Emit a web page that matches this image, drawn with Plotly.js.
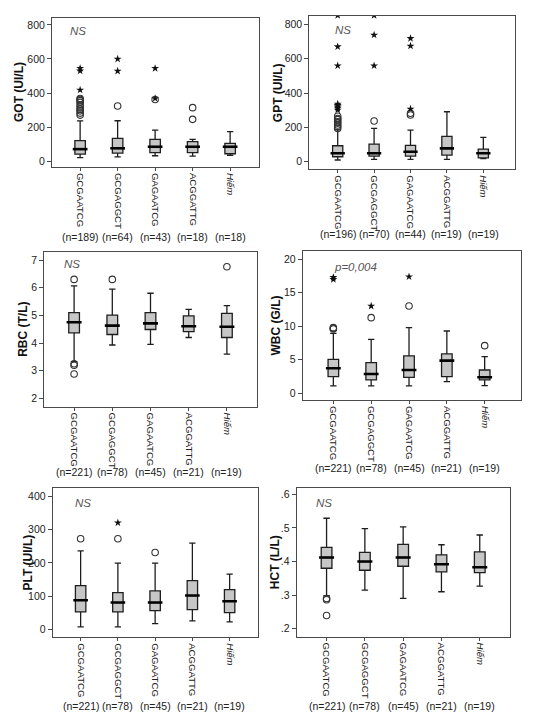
<!DOCTYPE html>
<html>
<head>
<meta charset="utf-8">
<script src="https://cdn.plot.ly/plotly-3.0.1.min.js"></script>
<style>html,body{margin:0;padding:0;background:#fff;}#chart{width:533px;height:718px;}</style>
</head>
<body>
<div id="chart"></div>
<script>
// ---------- data ----------
const categories = ['GCGAATCG', 'GCGAGGCT', 'GAGAATCG', 'ACGGATTG', 'Hiếm'];

// GOT (UI/L)
const got_n = [189, 64, 43, 18, 18];
const got_low = [20, 25, 31, 29, 33];
const got_q1 = [41, 47, 49, 49, 43];
const got_med = [70, 75, 84, 84, 84];
const got_q3 = [120, 133, 127, 114, 104];
const got_high = [236, 237, 182, 127, 173];
const got_circ_x = ['GCGAATCG','GCGAATCG','GCGAATCG','GCGAATCG','GCGAATCG','GCGAATCG','GCGAATCG','GCGAATCG','GCGAATCG','GCGAATCG','GCGAGGCT','GAGAATCG','ACGGATTG','ACGGATTG'];
const got_circ_y = [270, 282, 295, 305, 318, 330, 345, 355, 362, 368, 324, 362, 245, 314];
const got_star_x = ['GCGAATCG','GCGAATCG','GCGAATCG','GCGAGGCT','GCGAGGCT','GAGAATCG','GAGAATCG'];
const got_star_y = [418, 530, 545, 529, 600, 368, 545];

// GPT (UI/L)
const gpt_n = [196, 70, 44, 19, 19];
const gpt_low = [10, 14, 14, 14, 19];
const gpt_q1 = [29, 33, 33, 39, 23];
const gpt_med = [49, 49, 58, 78, 49];
const gpt_q3 = [93, 103, 95, 148, 74];
const gpt_high = [185, 194, 184, 291, 142];
const gpt_circ_x = ['GCGAATCG','GCGAATCG','GCGAATCG','GCGAATCG','GCGAATCG','GCGAATCG','GCGAATCG','GCGAATCG','GCGAGGCT','GAGAATCG','GAGAATCG'];
const gpt_circ_y = [194, 205, 214, 225, 233, 245, 252, 265, 237, 272, 282];
const gpt_star_x = ['GCGAATCG','GCGAATCG','GCGAATCG','GCGAATCG','GCGAATCG','GCGAATCG','GCGAATCG','GCGAATCG','GCGAGGCT','GCGAGGCT','GCGAGGCT','GAGAATCG','GAGAATCG','GAGAATCG'];
const gpt_star_y = [301, 312, 320, 328, 336, 559, 670, 852, 559, 738, 852, 307, 674, 718];

// RBC (T/L)
const rbc_n = [221, 78, 45, 21, 19];
const rbc_low = [3.33, 3.93, 3.95, 4.20, 3.60];
const rbc_q1 = [4.37, 4.31, 4.49, 4.41, 4.20];
const rbc_med = [4.75, 4.63, 4.71, 4.61, 4.59];
const rbc_q3 = [5.10, 5.01, 5.10, 4.98, 5.07];
const rbc_high = [6.07, 5.95, 5.80, 5.22, 5.35];
const rbc_circ_x = ['GCGAATCG','GCGAATCG','GCGAATCG','GCGAATCG','GCGAGGCT','Hiếm'];
const rbc_circ_y = [6.30, 3.25, 3.20, 2.88, 6.30, 6.76];
const rbc_star_x = [];
const rbc_star_y = [];

// WBC (G/L)
const wbc_n = [221, 78, 45, 21, 19];
const wbc_low = [1.09, 1.09, 1.09, 1.74, 1.14];
const wbc_q1 = [2.48, 1.99, 2.38, 2.48, 1.99];
const wbc_med = [3.72, 2.88, 3.47, 4.86, 2.38];
const wbc_q3 = [5.06, 4.57, 5.56, 5.86, 3.47];
const wbc_high = [8.93, 8.04, 9.78, 9.28, 5.46];
const wbc_circ_x = ['GCGAATCG','GCGAATCG','GCGAATCG','GCGAGGCT','GAGAATCG','Hiếm'];
const wbc_circ_y = [9.58, 9.68, 9.78, 11.27, 13.0, 7.10];
const wbc_star_x = ['GCGAATCG','GCGAATCG','GCGAGGCT','GAGAATCG'];
const wbc_star_y = [16.97, 17.27, 13.0, 17.37];

// PLT (UI/L)
const plt_n = [221, 78, 45, 21, 19];
const plt_low = [8, 8, 18, 26, 23];
const plt_q1 = [53, 53, 57, 60, 51];
const plt_med = [88, 81, 81, 102, 85];
const plt_q3 = [132, 111, 116, 147, 120];
const plt_high = [236, 199, 199, 259, 166];
const plt_circ_x = ['GCGAATCG','GCGAGGCT','GAGAATCG'];
const plt_circ_y = [272, 272, 231];
const plt_star_x = ['GCGAGGCT'];
const plt_star_y = [320];

// HCT (L/L)
const hct_n = [221, 78, 45, 21, 19];
const hct_low = [0.298, 0.315, 0.290, 0.310, 0.327];
const hct_q1 = [0.380, 0.374, 0.386, 0.369, 0.367];
const hct_med = [0.412, 0.400, 0.412, 0.392, 0.383];
const hct_q3 = [0.442, 0.427, 0.451, 0.420, 0.429];
const hct_high = [0.529, 0.498, 0.503, 0.450, 0.479];
const hct_circ_x = ['GCGAATCG','GCGAATCG','GCGAATCG'];
const hct_circ_y = [0.286, 0.290, 0.239];
const hct_star_x = [];
const hct_star_y = [];

// tick labels
const got_ticks = [0, 200, 400, 600, 800];
const gpt_ticks = [0, 200, 400, 600, 800];
const rbc_ticks = [2, 3, 4, 5, 6, 7];
const wbc_ticks = [0, 5, 10, 15, 20];
const plt_ticks = [0, 100, 200, 300, 400];
const hct_ticks = [0.2, 0.3, 0.4, 0.5, 0.6];
const hct_ticktext = ['.2', '.3', '.4', '.5', '.6'];

const titles = ['GOT (UI/L)', 'GPT (UI/L)', 'RBC (T/L)', 'WBC (G/L)', 'PLT (UI/L)', 'HCT (L/L)'];
const notes = ['NS', 'NS', 'NS', 'p=0,004', 'NS', 'NS'];

// ---------- layout geometry (pixels) ----------
const W = 533, H = 718;
const px = v => v / W;
const py = v => 1 - v / H;
const NARROW = '"Liberation Sans Narrow", "Arial Narrow", "Liberation Sans", Arial, sans-serif';
const SANS = '"Liberation Sans", Arial, sans-serif';

const panels = [
  {low: got_low, q1: got_q1, med: got_med, q3: got_q3, high: got_high, n: got_n,
   cx: got_circ_x, cy: got_circ_y, sx: got_star_x, sy: got_star_y,
   tv: got_ticks, tt: got_ticks.map(String),
   box: [52, 18, 259, 167], xr: [-0.75, 4.77], yr: [-35, 841],
   titleX: 18.5, nY: 237, noteXY: [78, 31]},
  {low: gpt_low, q1: gpt_q1, med: gpt_med, q3: gpt_q3, high: gpt_high, n: gpt_n,
   cx: gpt_circ_x, cy: gpt_circ_y, sx: gpt_star_x, sy: gpt_star_y,
   tv: gpt_ticks, tt: gpt_ticks.map(String),
   box: [309.3, 15.7, 515, 169.3], xr: [-0.78, 4.87], yr: [-44, 850],
   titleX: 277.7, nY: 234, noteXY: [343, 30]},
  {low: rbc_low, q1: rbc_q1, med: rbc_med, q3: rbc_q3, high: rbc_high, n: rbc_n,
   cx: rbc_circ_x, cy: rbc_circ_y, sx: rbc_star_x, sy: rbc_star_y,
   tv: rbc_ticks, tt: rbc_ticks.map(String),
   box: [44.3, 252.3, 256.7, 406.7], xr: [-0.78, 4.78], yr: [1.70, 7.28],
   titleX: 23.3, nY: 471.5, noteXY: [72, 264]},
  {low: wbc_low, q1: wbc_q1, med: wbc_med, q3: wbc_q3, high: wbc_high, n: wbc_n,
   cx: wbc_circ_x, cy: wbc_circ_y, sx: wbc_star_x, sy: wbc_star_y,
   tv: wbc_ticks, tt: wbc_ticks.map(String),
   box: [302.7, 251, 521, 400], xr: [-0.81, 4.96], yr: [-1.0, 21.2],
   titleX: 275, nY: 468.3, noteXY: [355, 267]},
  {low: plt_low, q1: plt_q1, med: plt_med, q3: plt_q3, high: plt_high, n: plt_n,
   cx: plt_circ_x, cy: plt_circ_y, sx: plt_star_x, sy: plt_star_y,
   tv: plt_ticks, tt: plt_ticks.map(String),
   box: [52.7, 487.7, 258.3, 637.3], xr: [-0.75, 4.77], yr: [-23, 425],
   titleX: 27, nY: 706, noteXY: [83, 503]},
  {low: hct_low, q1: hct_q1, med: hct_med, q3: hct_q3, high: hct_high, n: hct_n,
   cx: hct_circ_x, cy: hct_circ_y, sx: hct_star_x, sy: hct_star_y,
   tv: hct_ticks, tt: hct_ticktext,
   box: [296.7, 487.7, 510, 636.7], xr: [-0.78, 4.79], yr: [0.176, 0.62],
   titleX: 275, nY: 706, noteXY: [324, 503]}
];

const tickText = categories.map(c => c === 'Hiếm' ? '<i>' + c + '</i>' : c);

const traces = [];
const layout = {
  width: W, height: H,
  margin: {l: 0, r: 0, t: 0, b: 0, pad: 0},
  paper_bgcolor: '#ffffff', plot_bgcolor: '#ffffff',
  showlegend: false,
  font: {family: SANS, color: '#222', size: 10},
  annotations: []
};

panels.forEach((p, i) => {
  const k = i + 1;
  const xa = 'x' + (k === 1 ? '' : k), ya = 'y' + (k === 1 ? '' : k);
  const xKey = 'xaxis' + (k === 1 ? '' : k), yKey = 'yaxis' + (k === 1 ? '' : k);
  const [x0, y0, x1, y1] = p.box;

  traces.push({
    type: 'box', xaxis: xa, yaxis: ya,
    x: categories, q1: p.q1, median: p.med, q3: p.q3,
    lowerfence: p.low, upperfence: p.high,
    boxpoints: false, width: 0.28, whiskerwidth: 0.6,
    fillcolor: '#c6c6c6', line: {color: '#1e1e1e', width: 1.3},
    hoverinfo: 'skip'
  });
  const boxPx = 0.28 * (x1 - x0) / (p.xr[1] - p.xr[0]);
  traces.push({
    type: 'scatter', mode: 'markers', xaxis: xa, yaxis: ya,
    x: categories, y: p.med,
    marker: {symbol: 'line-ew', size: boxPx, color: '#000', line: {color: '#000', width: 2.6}},
    hoverinfo: 'skip'
  });
  if (p.cx.length) traces.push({
    type: 'scatter', mode: 'markers', xaxis: xa, yaxis: ya,
    x: p.cx, y: p.cy,
    marker: {symbol: 'circle-open', size: 6.5, color: '#333', line: {color: '#333', width: 1.1}},
    hoverinfo: 'skip'
  });
  if (p.sx.length) traces.push({
    type: 'scatter', mode: 'markers', xaxis: xa, yaxis: ya,
    x: p.sx, y: p.sy,
    marker: {symbol: 'star', size: 6, color: '#111', line: {width: 0}},
    hoverinfo: 'skip'
  });

  layout[xKey] = {
    domain: [px(x0), px(x1)], anchor: ya,
    type: 'category', categoryorder: 'array', categoryarray: categories,
    range: p.xr, tickvals: categories, ticktext: tickText,
    tickangle: 90, tickfont: {family: SANS, size: 9.6, color: '#222'},
    showline: true, mirror: true, linecolor: '#4a4a4a', linewidth: 1,
    ticks: 'outside', ticklen: 3, tickcolor: '#4a4a4a',
    showgrid: false, zeroline: false, fixedrange: true
  };
  layout[yKey] = {
    domain: [py(y1), py(y0)], anchor: xa,
    range: p.yr, tickvals: p.tv, ticktext: p.tt,
    tickfont: {family: NARROW, size: 10.5, color: '#222'},
    showline: true, mirror: true, linecolor: '#4a4a4a', linewidth: 1,
    ticks: 'outside', ticklen: 4, tickcolor: '#4a4a4a',
    showgrid: false, zeroline: false, fixedrange: true
  };

  // y-axis title
  layout.annotations.push({
    xref: 'paper', yref: 'paper', x: px(p.titleX), y: py((y0 + y1) / 2),
    text: '<b>' + titles[i] + '</b>', textangle: -90, showarrow: false,
    xanchor: 'center', yanchor: 'middle',
    font: {family: NARROW, size: 12, color: '#111'}
  });
  // significance note
  layout.annotations.push({
    xref: 'paper', yref: 'paper', x: px(p.noteXY[0]), y: py(p.noteXY[1]),
    text: '<i>' + notes[i] + '</i>', showarrow: false,
    xanchor: 'center', yanchor: 'middle',
    font: {family: NARROW, size: 11.5, color: '#555'}
  });
  // group sizes
  categories.forEach((c, j) => {
    layout.annotations.push({
      xref: xa, yref: 'paper', x: c, y: py(p.nY),
      text: '(n=' + p.n[j] + ')', showarrow: false,
      xanchor: 'center', yanchor: 'middle',
      font: {family: NARROW, size: 10.5, color: '#222'}
    });
  });
});

Plotly.newPlot('chart', traces, layout, {displayModeBar: false, staticPlot: true});
</script>
</body>
</html>
